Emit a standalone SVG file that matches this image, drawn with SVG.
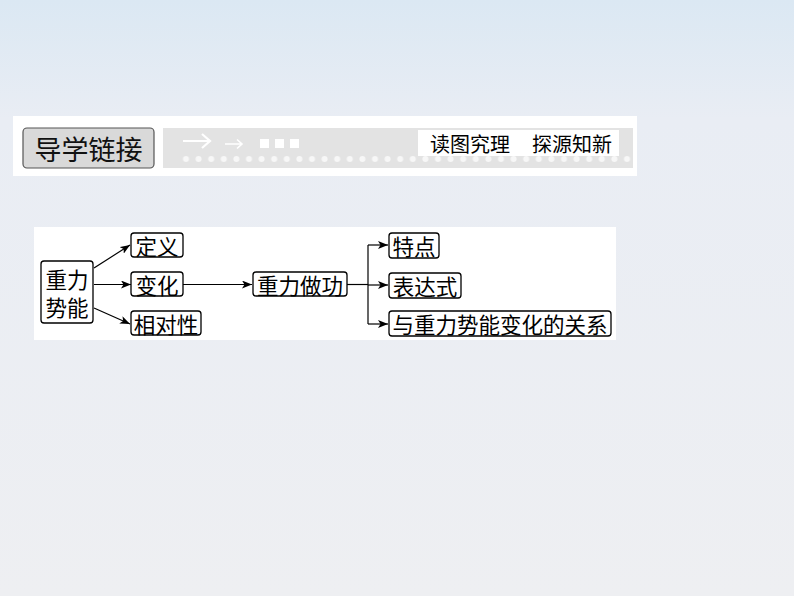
<svg xmlns="http://www.w3.org/2000/svg" width="794" height="596" viewBox="0 0 794 596">
<defs>
<linearGradient id="bg" x1="0" y1="0" x2="0" y2="1">
<stop offset="0" stop-color="#dbe8f3"/>
<stop offset="0.2" stop-color="#e9edf4"/>
<stop offset="1" stop-color="#eeeff2"/>
</linearGradient>
<marker id="ah" viewBox="0 0 10 8" refX="10" refY="4" markerWidth="10" markerHeight="8" markerUnits="userSpaceOnUse" orient="auto">
<path d="M0,0 L10,4 L0,8 L2.5,4 Z" fill="#000"/>
</marker>
<pattern id="dots" x="179.7" y="154" width="12.6" height="10" patternUnits="userSpaceOnUse">
<circle cx="6.3" cy="5" r="3" fill="#f7f7f7"/>
</pattern>
</defs>
<style>
.box{fill:#fff;stroke:#000;stroke-width:1.3}
.t{font-family:"Noto Sans CJK SC","Noto Sans CJK JP",sans-serif;font-size:21.5px;fill:#000;dominant-baseline:central}
.c{fill:none;stroke:#000;stroke-width:1.2}
.h{font-family:"Noto Sans CJK SC",sans-serif;font-size:20px;fill:#000;dominant-baseline:central}
</style>
<rect width="794" height="596" fill="url(#bg)"/>

<g id="header">
<rect x="13" y="116" width="624" height="60" fill="#fff"/>
<rect x="23" y="128" width="131" height="40" rx="4" fill="#d9d9d9" stroke="#555" stroke-width="1.2"/>
<text x="88.5" y="148" text-anchor="middle" style="font-family:'Noto Sans CJK SC',sans-serif;font-size:27px;fill:#111;dominant-baseline:central">导学链接</text>
<rect x="163" y="128" width="470" height="40" fill="#e3e3e3"/>
<rect x="179.7" y="154" width="453" height="10" fill="url(#dots)"/>
<g fill="none" stroke="#fff" stroke-width="2.2">
<path d="M183,141 H210 M202,134 L210,141 L202,148"/>
<path d="M225,144 H242 M237,139.5 L242,144 L237,148.5" stroke-width="1.6"/>
</g>
<g fill="#fff">
<rect x="260" y="139" width="9" height="9"/>
<rect x="275" y="139" width="9" height="9"/>
<rect x="290" y="139" width="9" height="9"/>
</g>
<rect x="418" y="130" width="201" height="26" fill="#fff"/>
<text class="h" x="470" y="143" text-anchor="middle">读图究理</text>
<text class="h" x="572" y="143" text-anchor="middle">探源知新</text>
</g>

<rect x="34" y="227" width="582" height="113" fill="#fff"/>

<g id="connectors">
<path class="c" d="M94,268 L130,245" marker-end="url(#ah)"/>
<path class="c" d="M94,284.5 H131" marker-end="url(#ah)"/>
<path class="c" d="M94,308 L130,324" marker-end="url(#ah)"/>
<path class="c" d="M183,284.5 H252" marker-end="url(#ah)"/>
<path class="c" d="M347,284.5 H368"/>
<path class="c" d="M368,245 V324"/>
<path class="c" d="M368,245 H388" marker-end="url(#ah)"/>
<path class="c" d="M368,285 H388" marker-end="url(#ah)"/>
<path class="c" d="M368,324 H388" marker-end="url(#ah)"/>
</g>

<g id="n-zlsn">
<rect class="box" x="41" y="261" width="52" height="62" rx="3"/>
<text class="t" x="67" y="278" text-anchor="middle">重力</text>
<text class="t" x="67" y="306" text-anchor="middle">势能</text>
</g>
<g id="n-dy">
<rect class="box" x="131" y="233" width="52" height="24" rx="3"/>
<text class="t" x="157" y="245" text-anchor="middle">定义</text>
</g>
<g id="n-bh">
<rect class="box" x="131" y="272" width="52" height="24" rx="3"/>
<text class="t" x="157" y="284" text-anchor="middle">变化</text>
</g>
<g id="n-xdx">
<rect class="box" x="131" y="311" width="70" height="24" rx="3"/>
<text class="t" x="166" y="323" text-anchor="middle">相对性</text>
</g>
<g id="n-zlzg">
<rect class="box" x="253" y="272" width="94" height="24" rx="3"/>
<text class="t" x="300" y="284" text-anchor="middle">重力做功</text>
</g>
<g id="n-td">
<rect class="box" x="389" y="233" width="50" height="25" rx="3"/>
<text class="t" x="414" y="245.5" text-anchor="middle">特点</text>
</g>
<g id="n-bds">
<rect class="box" x="389" y="273" width="72" height="25" rx="3"/>
<text class="t" x="425" y="285.5" text-anchor="middle">表达式</text>
</g>
<g id="n-gx">
<rect class="box" x="389" y="311" width="222" height="25" rx="3"/>
<text class="t" x="500" y="323.5" text-anchor="middle">与重力势能变化的关系</text>
</g>
</svg>
